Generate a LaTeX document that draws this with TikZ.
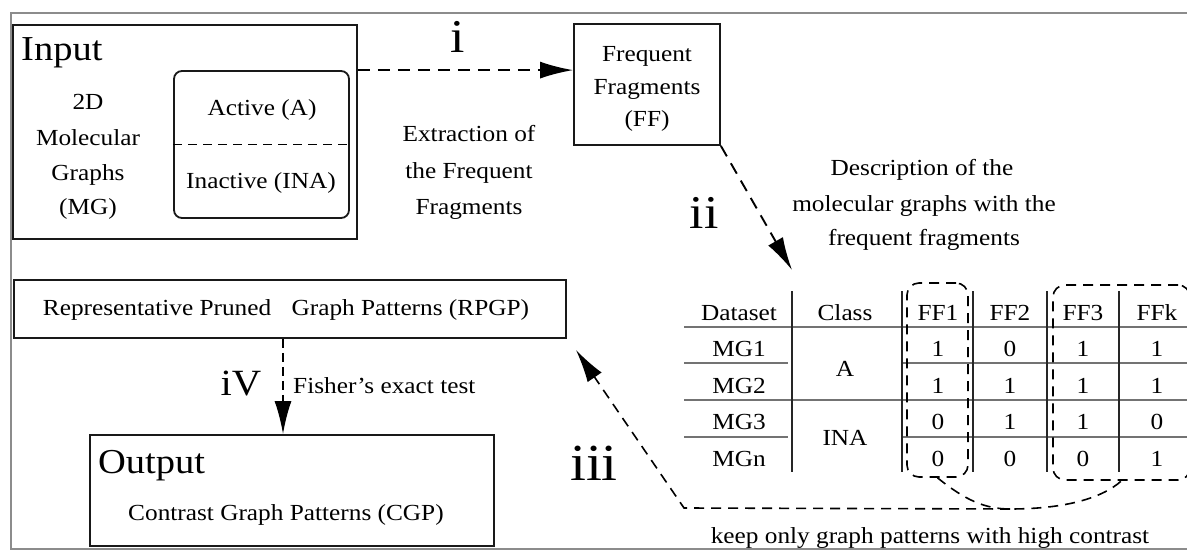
\documentclass[tikz,border=0pt]{standalone}
\usepackage{fontspec}
\setmainfont{Liberation Serif}[FakeStretch=1.1]
\usetikzlibrary{arrows.meta}
\newcommand\fN{\fontsize{23}{27}\selectfont}
\newcommand\fH{\fontsize{35}{40}\selectfont}
\newcommand\fR{\fontsize{47}{54}\selectfont}
\newcommand\fRb{\fontsize{52}{60}\selectfont}
\newcommand\fRs{\fontsize{37}{44}\selectfont}
\begin{document}
\begin{tikzpicture}[x=1pt,y=-1pt,
 lbl/.style={anchor=base,inner sep=0pt,font=\fN},
 lbll/.style={anchor=base west,inner sep=0pt,font=\fN},
 box/.style={draw=black!90,line width=1.8pt,inner sep=0pt},
 dsh/.style={line width=1.9pt,dash pattern=on 12pt off 8pt},
 arr/.style={dsh,-{Latex[length=33pt,width=17pt]}},
 tline/.style={draw=black!55,line width=2.6pt},
 vline/.style={draw=black!85,line width=1.6pt},
 grp/.style={draw,line width=1.6pt,dash pattern=on 10pt off 7pt},
 frame/.style={draw=black!45,line width=2.5pt}]
\useasboundingbox (0,0) rectangle (1187,551);
\fill[white] (0,0) rectangle (1187,551);
\clip (0,0) rectangle (1187,551);
% outer frame (open at right)
\draw[frame] (1190,13) -- (11,13) -- (11,549) -- (1190,549);
% Input box
\node[box,minimum width=344pt,minimum height=214pt] (input) at (185,132) {};
\node[anchor=base west,inner sep=0pt,font=\fH] (inputlbl) at (21,61) {Input};
\node[lbl] (mg1) at (88,110) {2D};
\node[lbl] (mg2) at (88,145) {Molecular};
\node[lbl] (mg3) at (88,180) {Graphs};
\node[lbl] (mg4) at (88,214) {(MG)};
\node[box,rounded corners=8pt,minimum width=175pt,minimum height=147pt] (inner) at (261.5,144.5) {};
\draw[line width=1.5pt,dash pattern=on 9pt off 6pt] (inner.west) -- (inner.east);
\node[lbl] (act) at (262,115) {Active (A)};
\node[lbl] (inact) at (261,188) {Inactive (INA)};
% FF box
\node[box,minimum width=146pt,minimum height=121pt] (ff) at (647,84.5) {};
\node[lbl] (ff1l) at (647,62) {Frequent};
\node[lbl] (ff2l) at (647,95) {Fragments};
\node[lbl] (ff3l) at (647,127) {(FF)};
% arrow i
\draw[arr] (input.east |- inner.north) -- (ff.west |- inner.north);
\node[anchor=base,inner sep=0pt,font=\fR] (ri) at (458,53) {i};
\node[lbl] (ex1) at (469,141) {Extraction of};
\node[lbl] (ex2) at (469,178) {the Frequent};
\node[lbl] (ex3) at (469,214) {Fragments};
% arrow ii
\coordinate (tipii) at (792,270);
\draw[arr] (ff.south east) -- (tipii);
\node[anchor=base,inner sep=0pt,font=\fR] (rii) at (704,228) {ii};
\node[lbl] (d1) at (922,175) {Description of the};
\node[lbl] (d2) at (924,211) {molecular graphs with the};
\node[lbl] (d3) at (924,245) {frequent fragments};
% RPGP box
\node[box,minimum width=552pt,minimum height=58pt] (rpgp) at (290,309) {};
\node[lbl] (rpgpl) at (286,315) {Representative Pruned\hspace{14pt} Graph Patterns (RPGP)};
% Output box
\node[box,minimum width=404pt,minimum height=111pt] (output) at (292,490.5) {};
\node[anchor=base west,inner sep=0pt,font=\fH] (outlbl) at (98,473) {Output};
\node[lbl] (cgp) at (286,520) {Contrast Graph Patterns (CGP)};
% arrow iv
\coordinate (ivx) at (283,0);
\draw[arr,dash pattern=on 9pt off 5pt] (rpgp.south -| ivx) -- (output.north -| ivx);
\node[anchor=base,inner sep=0pt,font=\fRs] (riv) at (241,395) {iV};
\node[lbll] (fisher) at (293,393) {Fisher’s exact test};
% table lines
\draw[tline] (684,327) -- (1190,327);
\draw[tline] (684,363) -- (788,363);
\draw[tline] (902,363) -- (1190,363);
\draw[tline] (684,400) -- (1190,400);
\draw[tline] (684,437) -- (788,437);
\draw[tline] (902,437) -- (1190,437);
\foreach \x in {792,902,973,1047,1119} \draw[vline] (\x,291) -- (\x,472);
% table text
\node[lbl] (hd) at (739,320) {Dataset};
\node[lbl] (hc) at (845,320) {Class};
\node[lbl] (h1) at (938,320) {FF1};
\node[lbl] (h2) at (1010,320) {FF2};
\node[lbl] (h3) at (1083,320) {FF3};
\node[lbl] (hk) at (1157,320) {FFk};
\node[lbl] (r1) at (739,356) {MG1};
\node[lbl] (r2) at (739,393) {MG2};
\node[lbl] (r3) at (739,429) {MG3};
\node[lbl] (r4) at (739,466) {MGn};
\node[lbl] (ca) at (845,376) {A};
\node[lbl] (cina) at (845,445) {INA};
\foreach \r/\yy/\a/\b/\c/\d in {1/356/1/0/1/1, 2/393/1/1/1/1, 3/429/0/1/1/0, 4/466/0/0/0/1}{
  \node[lbl] (v\r a) at (938,\yy) {\a};
  \node[lbl] (v\r b) at (1010,\yy) {\b};
  \node[lbl] (v\r c) at (1083,\yy) {\c};
  \node[lbl] (v\r d) at (1157,\yy) {\d};
}
% dashed groups
\node[grp,rounded corners=12pt,minimum width=61pt,minimum height=194pt,inner sep=0pt] (g1) at (937.5,380) {};
\node[grp,rounded corners=12pt,minimum width=137pt,minimum height=195pt,inner sep=0pt] (g3) at (1121.5,382.5) {};
\coordinate (cb) at (1010,509);
\draw[grp] (g1.south) .. controls (965,500) and (985,509) .. (cb) .. controls (1060,509) and (1100,500) .. (g3.south);
% arrow iii
\coordinate (bl) at (684,508);
\coordinate (tipiii) at (576,350);
\draw[arr,line width=1.6pt,dash pattern=on 10pt off 7pt] (cb) -- (bl) -- (tipiii);
\node[anchor=base,inner sep=0pt,font=\fRb] (riii) at (594,480) {iii};
\node[lbl] (keep) at (930,543) {keep only graph patterns with high contrast};
\end{tikzpicture}
\end{document}
